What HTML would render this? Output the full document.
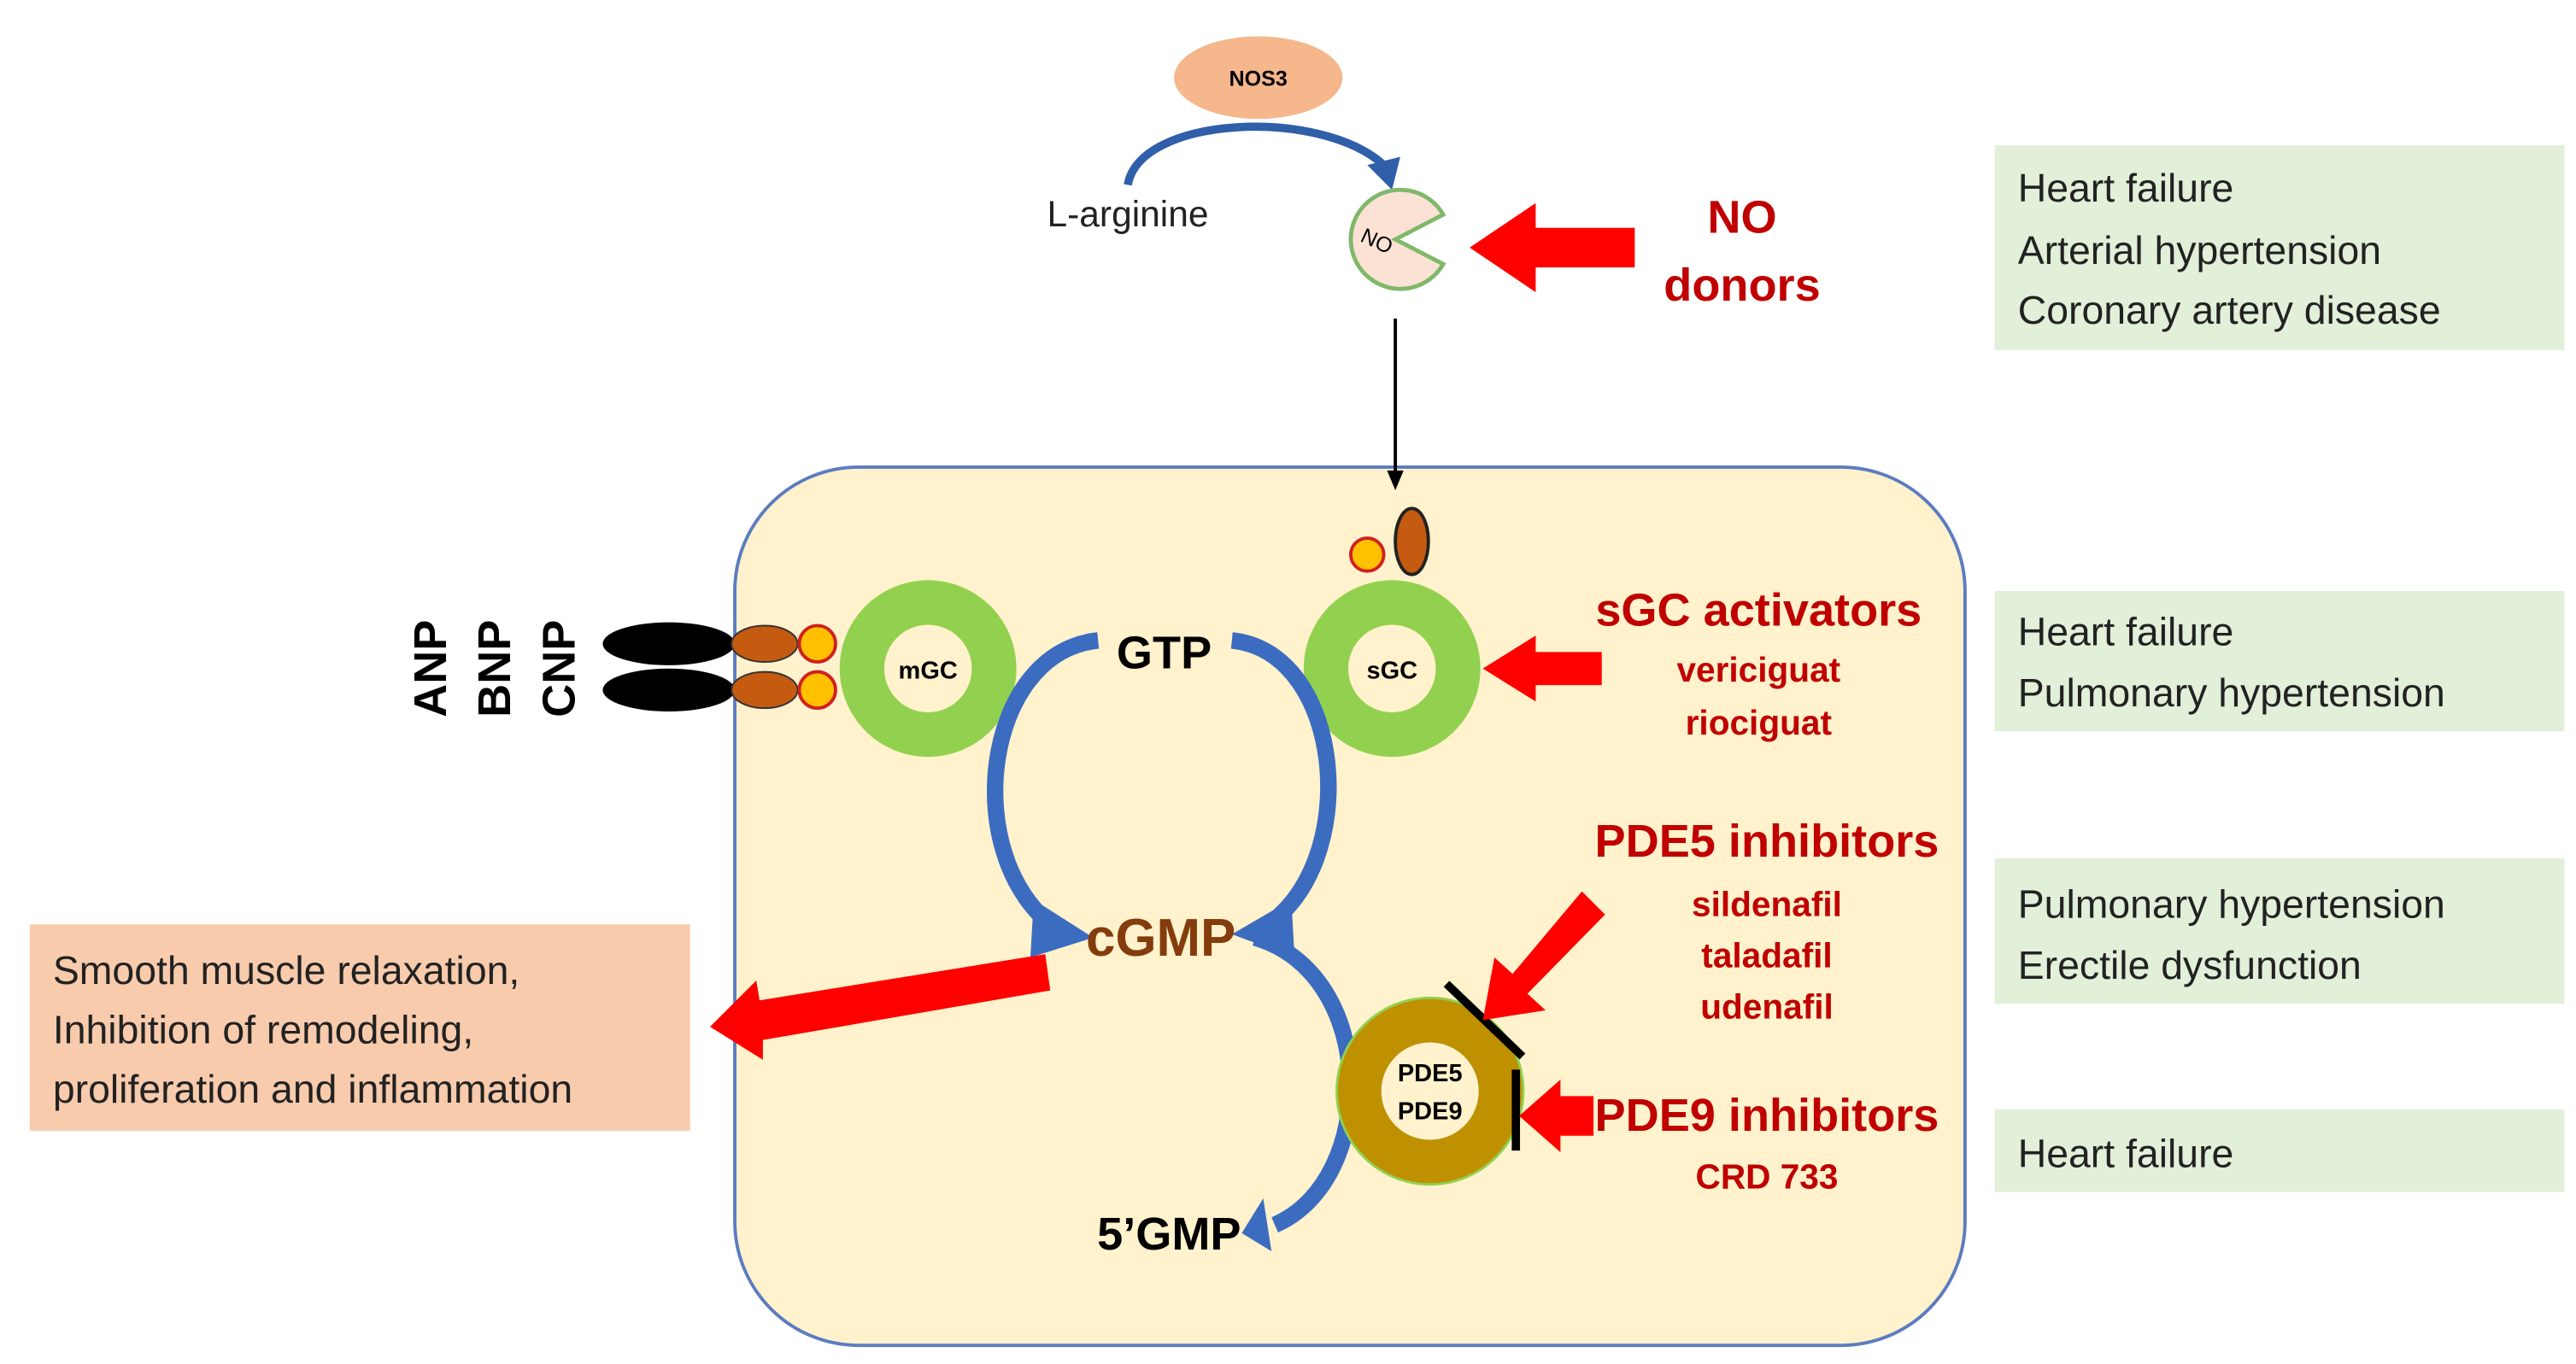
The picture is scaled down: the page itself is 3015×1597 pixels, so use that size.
<!DOCTYPE html>
<html><head><meta charset="utf-8"><style>
html,body{margin:0;padding:0;background:#fff;}
svg{display:block;}
text{font-family:"Liberation Sans",sans-serif;}
</style></head><body>
<svg width="3015" height="1597" viewBox="0 0 1560 826.3" preserveAspectRatio="none" xmlns="http://www.w3.org/2000/svg">
<!-- top -->
<ellipse cx="762" cy="47" rx="51" ry="25" fill="#f5b78b"/>
<text x="762" y="52" font-size="13" font-weight="bold" text-anchor="middle">NOS3</text>
<path d="M683,112 C690,70 800,65 838,100" fill="none" stroke="#2f5fa8" stroke-width="5"/>
<polygon points="828,100 848,95 843,115" fill="#2f5fa8"/>
<text x="683" y="137" font-size="22" text-anchor="middle" fill="#222">L-arginine</text>
<path d="M845,145 L874,130 A30,30 0 1,0 874,160 Z" fill="#fbe2d5" stroke="#7fb86a" stroke-width="2.5"/>
<text x="832" y="150" font-size="13" transform="rotate(25 832 150)" text-anchor="middle">NO</text>
<polygon points="990,138 930,138 930,123 890,150 930,177 930,162 990,162" fill="#ff0000"/>
<text x="1055" y="141" font-size="28" font-weight="bold" fill="#c00000" text-anchor="middle">NO</text>
<text x="1055" y="182" font-size="28" font-weight="bold" fill="#c00000" text-anchor="middle">donors</text>
<!-- green boxes -->
<rect x="1208" y="88" width="345" height="124" fill="#e2efd9"/>
<text x="1222" y="122" font-size="24" fill="#222">Heart failure</text>
<text x="1222" y="160" font-size="24" fill="#222">Arterial hypertension</text>
<text x="1222" y="196" font-size="24" fill="#222">Coronary artery disease</text>
<rect x="1208" y="358" width="345" height="85" fill="#e2efd9"/>
<text x="1222" y="391" font-size="24" fill="#222">Heart failure</text>
<text x="1222" y="428" font-size="24" fill="#222">Pulmonary hypertension</text>
<rect x="1208" y="520" width="345" height="88" fill="#e2efd9"/>
<text x="1222" y="556" font-size="24" fill="#222">Pulmonary hypertension</text>
<text x="1222" y="593" font-size="24" fill="#222">Erectile dysfunction</text>
<rect x="1208" y="672" width="345" height="50" fill="#e2efd9"/>
<text x="1222" y="707" font-size="24" fill="#222">Heart failure</text>
<!-- cell -->
<rect x="445" y="283" width="745" height="532" rx="75" fill="#fff2cc" stroke="#5b7cc0" stroke-width="2"/>
<line x1="845" y1="193" x2="845" y2="288" stroke="#000" stroke-width="2"/>
<polygon points="840,285 850,285 845,297" fill="#000"/>
<!-- receptors -->
<ellipse cx="405" cy="390" rx="40" ry="13" fill="#000"/>
<ellipse cx="405" cy="418" rx="40" ry="13" fill="#000"/>
<ellipse cx="463" cy="390" rx="20" ry="11" fill="#c55a11" stroke="#333"/>
<ellipse cx="463" cy="418" rx="20" ry="11" fill="#c55a11" stroke="#333"/>
<circle cx="495" cy="390" r="11" fill="#ffc000" stroke="#d02020" stroke-width="2"/>
<circle cx="495" cy="418" r="11" fill="#ffc000" stroke="#d02020" stroke-width="2"/>
<text transform="translate(270,405) rotate(-90)" font-size="28" font-weight="bold" text-anchor="middle">ANP</text>
<text transform="translate(309,405) rotate(-90)" font-size="28" font-weight="bold" text-anchor="middle">BNP</text>
<text transform="translate(348,405) rotate(-90)" font-size="28" font-weight="bold" text-anchor="middle">CNP</text>
<circle cx="562" cy="405" r="40" fill="none" stroke="#92d050" stroke-width="27"/>
<text x="562" y="411" font-size="15" font-weight="bold" text-anchor="middle">mGC</text>
<circle cx="843" cy="405" r="40" fill="none" stroke="#92d050" stroke-width="27"/>
<text x="843" y="411" font-size="15" font-weight="bold" text-anchor="middle">sGC</text>
<circle cx="828" cy="336" r="10" fill="#ffc000" stroke="#d02020" stroke-width="2"/>
<ellipse cx="855" cy="328" rx="10" ry="20" fill="#c55a11" stroke="#222" stroke-width="2"/>
<!-- blue arrows -->
<g fill="none" stroke="#3c6cc0" stroke-width="10">
<path d="M665,388 C595,395 580,520 640,563"/>
<path d="M746,388 C815,395 825,525 765,562"/>
<path d="M760,568 C835,590 835,715 772,742"/>
</g>
<polygon points="626,545 662,568 624,580" fill="#3c6cc0"/>
<polygon points="782,545 746,566 784,580" fill="#3c6cc0"/>
<polygon points="765,726 752,747 770,758" fill="#3c6cc0"/>
<text x="705" y="405" font-size="28" font-weight="bold" text-anchor="middle">GTP</text>
<text x="703" y="579" font-size="32" font-weight="bold" fill="#843c0c" text-anchor="middle">cGMP</text>
<text x="708" y="757" font-size="28" font-weight="bold" text-anchor="middle">5’GMP</text>
<!-- salmon box -->
<rect x="18" y="560" width="400" height="125" fill="#f8cbad"/>
<text x="32" y="596" font-size="24" fill="#222">Smooth muscle relaxation,</text>
<text x="32" y="632" font-size="24" fill="#222">Inhibition of remodeling,</text>
<text x="32" y="668" font-size="24" fill="#222">proliferation and inflammation</text>
<polygon points="633,578 460,606 458,594 430,622 462,642 462,630 636,600" fill="#ff0000"/>
<!-- PDE -->
<circle cx="866" cy="661" r="43" fill="none" stroke="#bf9000" stroke-width="27"/>
<circle cx="866" cy="661" r="56.5" fill="none" stroke="#92d050" stroke-width="1.5"/>
<text x="866" y="655" font-size="15" font-weight="bold" text-anchor="middle">PDE5</text>
<text x="866" y="678" font-size="15" font-weight="bold" text-anchor="middle">PDE9</text>
<line x1="876" y1="596" x2="922" y2="640" stroke="#000" stroke-width="5"/>
<line x1="918" y1="648" x2="918" y2="697" stroke="#000" stroke-width="5"/>
<polygon points="958,540 972,554 925,602 936,612 898,618 905,580 916,590" fill="#ff0000"/>
<polygon points="965,664 945,664 945,654 920,676 945,698 945,688 965,688" fill="#ff0000"/>
<polygon points="970,395 930,395 930,385 898,405 930,425 930,415 970,415" fill="#ff0000"/>
<!-- drug text -->
<text x="1065" y="379" font-size="28" font-weight="bold" fill="#c00000" text-anchor="middle">sGC activators</text>
<text x="1065" y="413" font-size="21" font-weight="bold" fill="#c00000" text-anchor="middle">vericiguat</text>
<text x="1065" y="445" font-size="21" font-weight="bold" fill="#c00000" text-anchor="middle">riociguat</text>
<text x="1070" y="519" font-size="28" font-weight="bold" fill="#c00000" text-anchor="middle">PDE5 inhibitors</text>
<text x="1070" y="555" font-size="21" font-weight="bold" fill="#c00000" text-anchor="middle">sildenafil</text>
<text x="1070" y="586" font-size="21" font-weight="bold" fill="#c00000" text-anchor="middle">taladafil</text>
<text x="1070" y="617" font-size="21" font-weight="bold" fill="#c00000" text-anchor="middle">udenafil</text>
<text x="1070" y="685" font-size="28" font-weight="bold" fill="#c00000" text-anchor="middle">PDE9 inhibitors</text>
<text x="1070" y="720" font-size="21" font-weight="bold" fill="#c00000" text-anchor="middle">CRD 733</text>
</svg>
</body></html>
